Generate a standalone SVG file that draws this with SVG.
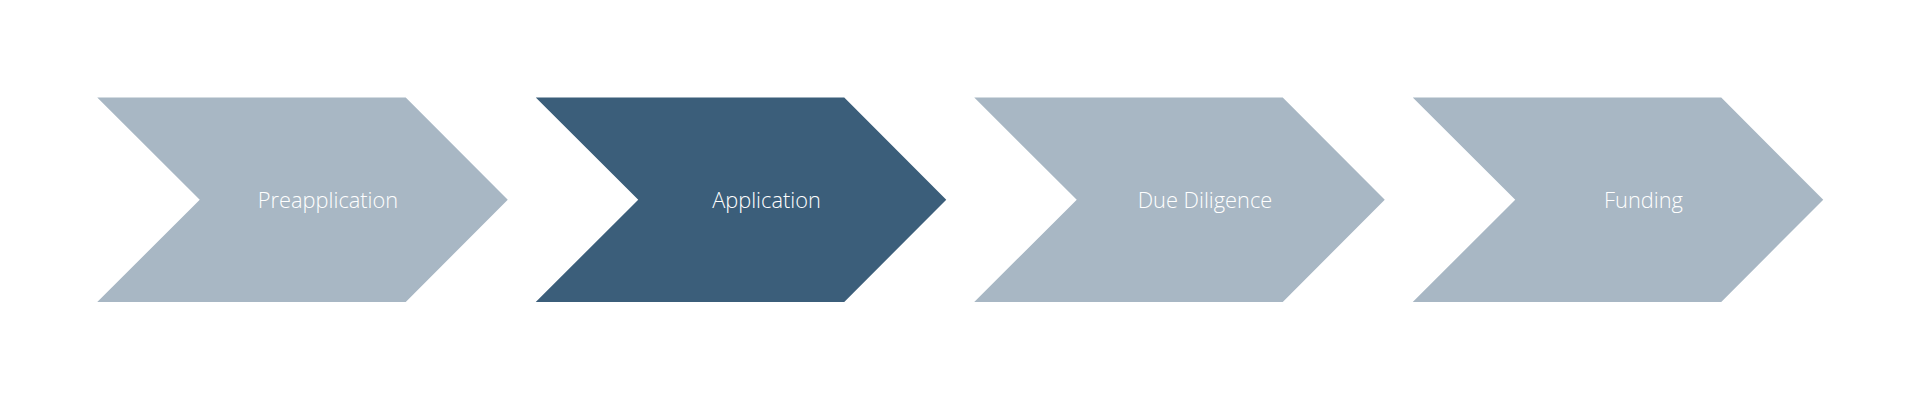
<svg xmlns="http://www.w3.org/2000/svg" width="1920" height="400" viewBox="0 0 1920 400">
<style>
.light{fill:#A8B7C4}
.dark{fill:#3B5E7A}
.lbl{font-family:"Open Sans","Liberation Sans",sans-serif;font-weight:300;font-size:21.8px;fill:#FFFFFF;text-anchor:middle}
</style>
<defs>
<path id="chev" d="M0 0 H308.5 L410.5 102.25 L308.5 204.5 H0 L102.5 102.25 Z"/>
</defs>
<rect width="1920" height="400" fill="#FFFFFF"/>
<g id="connectors"></g>
<g id="node-preapplication">
<use href="#chev" class="light" x="97.25" y="97.5"/>
<text class="lbl" x="328" y="207.8">Preapplication</text>
</g>
<g id="node-application">
<use href="#chev" class="dark" x="535.75" y="97.5"/>
<text class="lbl" x="766.5" y="207.8">Application</text>
</g>
<g id="node-due-diligence">
<use href="#chev" class="light" x="974.25" y="97.5"/>
<text class="lbl" x="1205" y="207.8">Due Diligence</text>
</g>
<g id="node-funding">
<use href="#chev" class="light" x="1412.75" y="97.5"/>
<text class="lbl" x="1643.5" y="207.8">Funding</text>
</g>
</svg>
